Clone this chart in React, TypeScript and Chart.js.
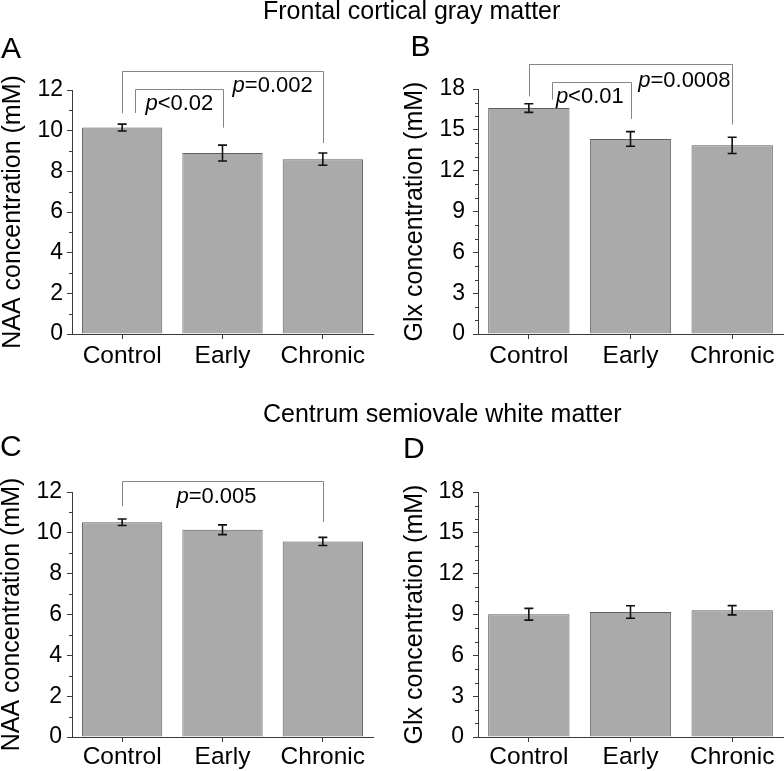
import React, { useEffect, useRef } from "react";
import { Chart, registerables } from "chart.js";

Chart.register(...registerables);

const FONT = "'Liberation Sans', Arial, Helvetica, sans-serif";

// ---------- data ----------
const categories = ["Control", "Early", "Chronic"];

const naaGrayValues = [10.15, 8.9, 8.6];
const naaGrayErrors = [0.17, 0.39, 0.3];

const glxGrayValues = [16.6, 14.33, 13.86];
const glxGrayErrors = [0.32, 0.54, 0.6];

const naaWhiteValues = [10.52, 10.15, 9.58];
const naaWhiteErrors = [0.16, 0.24, 0.2];

const glxWhiteValues = [9.02, 9.18, 9.31];
const glxWhiteErrors = [0.43, 0.46, 0.34];

const naaTicks = { max: 12, step: 2, minor: 1 };
const glxTicks = { max: 18, step: 3, minor: 1 };

// significance brackets: category positions and value levels
const naaGrayBrackets = [
  { from: 0, to: 2, top: 12.95, fromEnd: 10.86, toEnd: 9.39 },
  { from: 0.125, to: 1, top: 12.04, fromEnd: 10.87, toEnd: 10.15 },
];
const glxGrayBrackets = [
  { from: 0, to: 2, top: 19.84, fromEnd: 17.46, toEnd: 15.38 },
  { from: 0.23, to: 1, top: 18.49, fromEnd: 17.22, toEnd: 15.8 },
];
const naaWhiteBrackets = [
  { from: 0, to: 2, top: 12.52, fromEnd: 11.3, toEnd: 10.53 },
];
const glxWhiteBrackets: any[] = [];

const naaGrayPLabels = [
  { italic: "p", rest: "<0.02", x: 0.57, y: 11.41 },
  { italic: "p", rest: "=0.002", x: 1.5, y: 12.29 },
];
const glxGrayPLabels = [
  { italic: "p", rest: "<0.01", x: 0.6, y: 17.58 },
  { italic: "p", rest: "=0.0008", x: 1.53, y: 18.74 },
];
const naaWhitePLabels = [{ italic: "p", rest: "=0.005", x: 0.94, y: 11.84 }];
const glxWhitePLabels: any[] = [];

const sectionTitles = ["Frontal cortical gray matter", "Centrum semiovale white matter"];
const panelLetters = ["A", "B", "C", "D"];
const yTitles = ["NAA concentration (mM)", "Glx concentration (mM)"];

// ---------- panel layout ----------
type Panel = {
  left: number;
  top: number;
  width: number;
  height: number;
  values: number[];
  errors: number[];
  ticks: { max: number; step: number; minor: number };
  brackets: any[];
  pLabels: any[];
  yTitle: string;
  padTop: number;
  padRight: number;
  yWidth: number;
  xHeight: number;
  tickPad: number;
  titlePad: number;
  xLabelPad: number;
};

const panels: Panel[] = [
  {
    left: 0, top: 0, width: 392, height: 380,
    values: naaGrayValues, errors: naaGrayErrors, ticks: naaTicks,
    brackets: naaGrayBrackets, pLabels: naaGrayPLabels, yTitle: yTitles[0],
    padTop: 90, padRight: 19, yWidth: 72, xHeight: 46, tickPad: 4, titlePad: -2, xLabelPad: 3,
  },
  {
    left: 392, top: 0, width: 392, height: 380,
    values: glxGrayValues, errors: glxGrayErrors, ticks: glxTicks,
    brackets: glxGrayBrackets, pLabels: glxGrayPLabels, yTitle: yTitles[1],
    padTop: 89, padRight: 1, yWidth: 86, xHeight: 46, tickPad: 8, titlePad: 8, xLabelPad: 3,
  },
  {
    left: 0, top: 380, width: 392, height: 391,
    values: naaWhiteValues, errors: naaWhiteErrors, ticks: naaTicks,
    brackets: naaWhiteBrackets, pLabels: naaWhitePLabels, yTitle: yTitles[0],
    padTop: 112, padRight: 19, yWidth: 72, xHeight: 34, tickPad: 5, titlePad: -2.5, xLabelPad: 1,
  },
  {
    left: 392, top: 380, width: 392, height: 391,
    values: glxWhiteValues, errors: glxWhiteErrors, ticks: glxTicks,
    brackets: glxWhiteBrackets, pLabels: glxWhitePLabels, yTitle: yTitles[1],
    padTop: 112, padRight: 1, yWidth: 86, xHeight: 34, tickPad: 9, titlePad: 8, xLabelPad: 1,
  },
];

const AXIS_COLOR = "#3a3a3a";

function makeExtrasPlugin(p: Panel) {
  return {
    id: "extras",
    afterDraw(chart: any) {
      const ctx = chart.ctx as CanvasRenderingContext2D;
      const xs = chart.scales.x;
      const ys = chart.scales.y;
      const area = chart.chartArea;
      ctx.save();

      // x axis extension to the left
      ctx.strokeStyle = AXIS_COLOR;
      ctx.lineWidth = 1;
      ctx.beginPath();
      ctx.moveTo(area.left - 5, Math.round(area.bottom) + 0.5);
      ctx.lineTo(area.left, Math.round(area.bottom) + 0.5);
      ctx.stroke();

      // minor ticks
      ctx.beginPath();
      for (let v = 0; v <= p.ticks.max + 1e-9; v += p.ticks.minor) {
        const r = v / p.ticks.step;
        if (Math.abs(r - Math.round(r)) < 1e-6) continue;
        const y = Math.round(ys.getPixelForValue(v)) + 0.5;
        ctx.moveTo(area.left - 3, y);
        ctx.lineTo(area.left, y);
      }
      ctx.stroke();

      // error bars
      ctx.strokeStyle = "#111";
      ctx.lineWidth = 1.6;
      p.values.forEach((v, i) => {
        const x = xs.getPixelForValue(i);
        const yTop = ys.getPixelForValue(v + p.errors[i]);
        const yBot = ys.getPixelForValue(v - p.errors[i]);
        ctx.beginPath();
        ctx.moveTo(x, yTop);
        ctx.lineTo(x, yBot);
        ctx.moveTo(x - 4.5, yTop);
        ctx.lineTo(x + 4.5, yTop);
        ctx.moveTo(x - 4.5, yBot);
        ctx.lineTo(x + 4.5, yBot);
        ctx.stroke();
      });

      // brackets
      ctx.strokeStyle = "#858585";
      ctx.lineWidth = 1;
      p.brackets.forEach((b) => {
        const x1 = Math.round(xs.getPixelForValue(b.from)) + 0.5;
        const x2 = Math.round(xs.getPixelForValue(b.to)) + 0.5;
        const yt = Math.round(ys.getPixelForValue(b.top)) + 0.5;
        ctx.beginPath();
        ctx.moveTo(x1, ys.getPixelForValue(b.fromEnd));
        ctx.lineTo(x1, yt);
        ctx.lineTo(x2, yt);
        ctx.lineTo(x2, ys.getPixelForValue(b.toEnd));
        ctx.stroke();
      });

      // p-value labels
      ctx.fillStyle = "#000";
      ctx.textBaseline = "alphabetic";
      ctx.textAlign = "left";
      const size = 22;
      p.pLabels.forEach((l) => {
        ctx.font = `italic ${size}px ${FONT}`;
        const w1 = ctx.measureText(l.italic).width;
        ctx.font = `${size}px ${FONT}`;
        const w2 = ctx.measureText(l.rest).width;
        const cx = xs.getPixelForValue(l.x);
        const cy = ys.getPixelForValue(l.y);
        const x0 = cx - (w1 + w2) / 2;
        const base = cy + 0.716 * size / 2;
        ctx.font = `italic ${size}px ${FONT}`;
        ctx.fillText(l.italic, x0, base);
        ctx.font = `${size}px ${FONT}`;
        ctx.fillText(l.rest, x0 + w1, base);
      });

      ctx.restore();
    },
  };
}

function PanelChart({ p }: { p: Panel }) {
  const ref = useRef<HTMLCanvasElement | null>(null);
  useEffect(() => {
    if (!ref.current) return;
    const chart = new Chart(ref.current, {
      type: "bar",
      data: {
        labels: categories,
        datasets: [
          {
            data: p.values,
            backgroundColor: "#aaaaaa",
            borderColor: "#5e5e5e",
            borderWidth: 1,
            barPercentage: 0.8,
            categoryPercentage: 1,
          },
        ],
      },
      options: {
        responsive: false,
        animation: false,
        devicePixelRatio: 1,
        layout: { padding: { left: 0, top: p.padTop, right: p.padRight, bottom: 0 } },
        plugins: {
          legend: { display: false },
          tooltip: { enabled: false },
          title: { display: false },
        },
        scales: {
          x: {
            grid: {
              display: true,
              drawOnChartArea: false,
              offset: false,
              tickLength: 5,
              color: AXIS_COLOR,
            },
            border: { color: AXIS_COLOR, width: 1 },
            ticks: {
              font: { family: FONT, size: 24.5 },
              color: "#000",
              padding: p.xLabelPad,
              maxRotation: 0,
              autoSkip: false,
            },
            afterFit: (s: any) => {
              s.height = p.xHeight;
            },
          },
          y: {
            min: 0,
            max: p.ticks.max,
            ticks: {
              stepSize: p.ticks.step,
              font: { family: FONT, size: 23 },
              color: "#000",
              padding: p.tickPad,
            },
            grid: {
              drawOnChartArea: false,
              tickLength: 5,
              color: AXIS_COLOR,
            },
            border: { color: AXIS_COLOR, width: 1 },
            title: {
              display: true,
              text: p.yTitle,
              font: { family: FONT, size: 25, lineHeight: 1.2 },
              color: "#000",
              padding: { top: p.titlePad, bottom: 0 },
            },
            afterFit: (s: any) => {
              s.width = p.yWidth;
            },
          },
        },
      } as any,
      plugins: [makeExtrasPlugin(p)],
    });
    return () => chart.destroy();
  }, [p]);
  return (
    <canvas
      ref={ref}
      width={p.width}
      height={p.height}
      style={{
        position: "absolute",
        left: p.left,
        top: p.top,
        width: p.width,
        height: p.height,
        display: "block",
      }}
    />
  );
}

const textBase: React.CSSProperties = {
  position: "absolute",
  fontFamily: FONT,
  color: "#000",
  lineHeight: 1,
  whiteSpace: "nowrap",
  margin: 0,
};

export default function App() {
  return (
    <div
      style={{
        position: "absolute",
        left: 0,
        top: 0,
        width: 784,
        height: 771,
        background: "#fff",
        overflow: "hidden",
      }}
    >
      {panels.map((p, i) => (
        <PanelChart key={i} p={p} />
      ))}
      <div style={{ ...textBase, left: 263, top: -2.3, fontSize: 25 }}>{sectionTitles[0]}</div>
      <div style={{ ...textBase, left: 263, top: 400.5, fontSize: 25 }}>{sectionTitles[1]}</div>
      <div style={{ ...textBase, left: 1, top: 33, fontSize: 30 }}>{panelLetters[0]}</div>
      <div style={{ ...textBase, left: 410.5, top: 31.3, fontSize: 30 }}>{panelLetters[1]}</div>
      <div style={{ ...textBase, left: 0, top: 431.3, fontSize: 30 }}>{panelLetters[2]}</div>
      <div style={{ ...textBase, left: 403, top: 432.9, fontSize: 30 }}>{panelLetters[3]}</div>
    </div>
  );
}
